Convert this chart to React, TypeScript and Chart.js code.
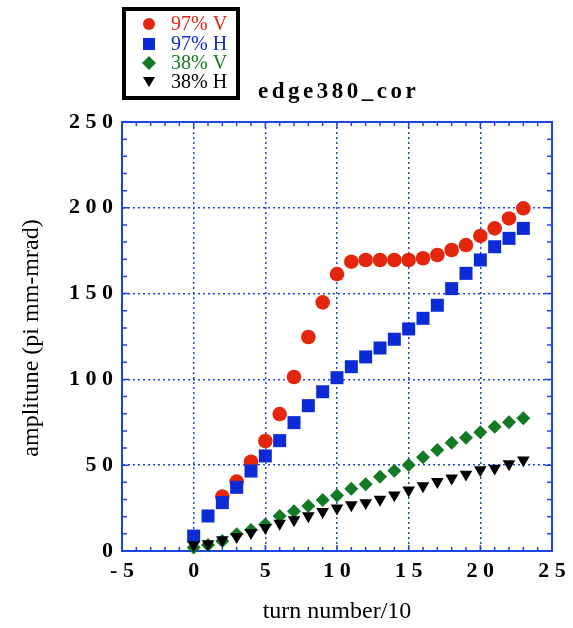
import React, { useEffect, useRef } from 'react';
import { Chart, registerables } from 'chart.js';

Chart.register(...registerables);

const turns = [0, 1, 2, 3, 4, 5, 6, 7, 8, 9, 10, 11, 12, 13, 14, 15, 16, 17, 18, 19, 20, 21, 22, 23];
const amp97V = [null, null, 31.7, 40.4, 52.0, 64.1, 79.8, 101.4, 124.7, 144.9, 161.4, 168.6, 169.6, 169.6, 169.6, 169.6, 170.6, 172.5, 175.4, 178.3, 183.6, 188.0, 193.8, 199.7];
const amp97H = [8.7, 20.4, 28.2, 37.1, 46.6, 55.4, 64.3, 74.8, 84.7, 92.8, 101.0, 107.4, 113.1, 118.3, 123.4, 129.4, 135.6, 143.2, 152.9, 161.8, 169.6, 177.3, 182.2, 188.0];
const amp38V = [2, 3.5, 5.8, 9.7, 12.2, 15.5, 20.4, 23.1, 26.2, 29.7, 32.4, 36.3, 38.9, 43.3, 46.8, 50.1, 54.6, 58.9, 63.1, 66.0, 69.2, 72.4, 75.0, 77.3];
const amp38H = [3.5, 4.1, 6.4, 8.3, 10.7, 13.6, 16.1, 18.1, 20.4, 22.9, 24.9, 26.8, 28.1, 30.1, 32.6, 35.5, 37.9, 40.4, 42.4, 44.7, 47.2, 48.2, 50.7, 53.0];
const seriesLabels = ['97% V', '97% H', '38% V', '38% H'];
const seriesColors = ['#e4260c', '#0b2bd6', '#137a24', '#000000'];

const chartTitle = 'edge380_cor';
const xTitle = 'turn number/10';
const yTitle = 'amplitune (pi mm-mrad)';
const xRange = [-5, 25];
const yRange = [0, 250];

const AXIS_BLUE = '#2044e4';
const SERIF = '"Liberation Serif", "Times New Roman", serif';

const spaced = (v: number | string) => String(v).split('').join(' ');

const decorPlugin = {
  id: 'decor',
  beforeDatasetsDraw(chart: any) {
    const { ctx, chartArea: a, scales } = chart;
    const xs = scales.x;
    const ys = scales.y;
    ctx.save();
    ctx.strokeStyle = AXIS_BLUE;
    ctx.lineWidth = 1.5;
    ctx.setLineDash([]);
    ctx.beginPath();
    for (let v = xRange[0]; v <= xRange[1]; v += 1) {
      const px = xs.getPixelForValue(v);
      const len = v % 5 === 0 ? 6 : 4;
      ctx.moveTo(px, a.bottom);
      ctx.lineTo(px, a.bottom - len);
      ctx.moveTo(px, a.top);
      ctx.lineTo(px, a.top + len);
    }
    for (let v = yRange[0]; v <= yRange[1]; v += 10) {
      const py = ys.getPixelForValue(v);
      const len = v % 50 === 0 ? 7 : 5;
      ctx.moveTo(a.left, py);
      ctx.lineTo(a.left + len, py);
      ctx.moveTo(a.right, py);
      ctx.lineTo(a.right - len, py);
    }
    ctx.stroke();
    ctx.lineWidth = 2;
    ctx.strokeRect(a.left, a.top, a.right - a.left, a.bottom - a.top);
    ctx.restore();
  },
  afterDraw(chart: any) {
    const { ctx } = chart;
    ctx.save();
    // chart title
    ctx.fillStyle = '#000';
    ctx.font = `bold 23px ${SERIF}`;
    ctx.textAlign = 'left';
    ctx.textBaseline = 'middle';
    (ctx as any).letterSpacing = '3.5px';
    ctx.fillText(chartTitle, 258, 92);
    (ctx as any).letterSpacing = '0px';

    // axis titles
    ctx.font = `24px ${SERIF}`;
    ctx.textAlign = 'center';
    ctx.fillText(xTitle, 337, 612);
    ctx.save();
    ctx.translate(32, 338);
    ctx.rotate(-Math.PI / 2);
    ctx.fillText(yTitle, 0, 0);
    ctx.restore();

    // legend box
    ctx.lineWidth = 4;
    ctx.strokeStyle = '#000';
    ctx.fillStyle = '#fff';
    ctx.fillRect(124, 9, 114, 89);
    ctx.strokeRect(124, 9, 114, 89);
    const rows = [24, 44, 63, 82];
    const mx = 149;
    chart.data.datasets.forEach((ds: any, i: number) => {
      const y = rows[i];
      ctx.fillStyle = ds.backgroundColor;
      ctx.beginPath();
      if (i === 0) {
        ctx.arc(mx, y, 6, 0, Math.PI * 2);
      } else if (i === 1) {
        ctx.rect(mx - 6, y - 6, 12, 12);
      } else if (i === 2) {
        ctx.moveTo(mx, y - 7);
        ctx.lineTo(mx + 7, y);
        ctx.lineTo(mx, y + 7);
        ctx.lineTo(mx - 7, y);
        ctx.closePath();
      } else {
        ctx.moveTo(mx - 6, y - 5);
        ctx.lineTo(mx + 6, y - 5);
        ctx.lineTo(mx, y + 5);
        ctx.closePath();
      }
      ctx.fill();
      ctx.font = `20px ${SERIF}`;
      ctx.textAlign = 'left';
      ctx.textBaseline = 'middle';
      ctx.fillText(ds.label, 171, y + 1);
    });
    ctx.restore();
  },
};

export default function App() {
  const ref = useRef<HTMLCanvasElement | null>(null);
  useEffect(() => {
    if (!ref.current) return;
    const mk = (vals: (number | null)[]) =>
      turns.map((t, i) => ({ x: t, y: vals[i] })).filter((p) => p.y !== null);
    const chart = new Chart(ref.current, {
      type: 'scatter',
      data: {
        datasets: [
          { label: seriesLabels[0], order: 4, data: mk(amp97V), pointStyle: 'circle', pointRadius: 7.3, backgroundColor: seriesColors[0], borderColor: seriesColors[0], borderWidth: 0, clip: false } as any,
          { label: seriesLabels[1], order: 3, data: mk(amp97H), pointStyle: 'rect', pointRadius: 9.2, backgroundColor: seriesColors[1], borderColor: seriesColors[1], borderWidth: 0, clip: false } as any,
          { label: seriesLabels[2], order: 2, data: mk(amp38V), pointStyle: 'rectRot', pointRadius: 7, backgroundColor: seriesColors[2], borderColor: seriesColors[2], borderWidth: 0, clip: false } as any,
          { label: seriesLabels[3], order: 1, data: mk(amp38H), pointStyle: 'triangle', rotation: 180, pointRadius: 7.3, backgroundColor: seriesColors[3], borderColor: seriesColors[3], borderWidth: 0, clip: false } as any,
        ],
      },
      options: {
        responsive: false,
        animation: false,
        events: [],
        layout: { padding: { left: 0, top: 122, right: 21, bottom: 0 } },
        plugins: { legend: { display: false }, tooltip: { enabled: false }, title: { display: false } },
        scales: {
          x: {
            type: 'linear',
            min: xRange[0],
            max: xRange[1],
            ticks: {
              stepSize: 5,
              color: '#000',
              padding: 7,
              font: { family: SERIF, weight: 'bold', size: 22 },
              callback: (v: any) => spaced(v),
            },
            grid: { color: AXIS_BLUE, lineWidth: 1.5, drawTicks: false },
            border: { color: AXIS_BLUE, width: 2, dash: [2, 3] },
            afterFit: (s: any) => {
              s.height = 77;
              s.paddingLeft = 0;
              s.paddingRight = 0;
            },
          },
          y: {
            type: 'linear',
            min: yRange[0],
            max: yRange[1],
            ticks: {
              stepSize: 50,
              color: '#000',
              padding: 9,
              font: { family: SERIF, weight: 'bold', size: 22 },
              callback: (v: any) => spaced(v),
            },
            grid: { color: AXIS_BLUE, lineWidth: 1.5, drawTicks: false },
            border: { color: AXIS_BLUE, width: 2, dash: [2, 3] },
            afterFit: (s: any) => {
              s.width = 122;
              s.paddingTop = 0;
              s.paddingBottom = 0;
            },
          },
        },
      } as any,
      plugins: [decorPlugin],
    });
    return () => chart.destroy();
  }, []);
  return (
    <div style={{ position: 'absolute', left: 0, top: 0, width: 573, height: 628, background: '#fff' }}>
      <canvas ref={ref} width={573} height={628} style={{ display: 'block', width: 573, height: 628 }} />
    </div>
  );
}
